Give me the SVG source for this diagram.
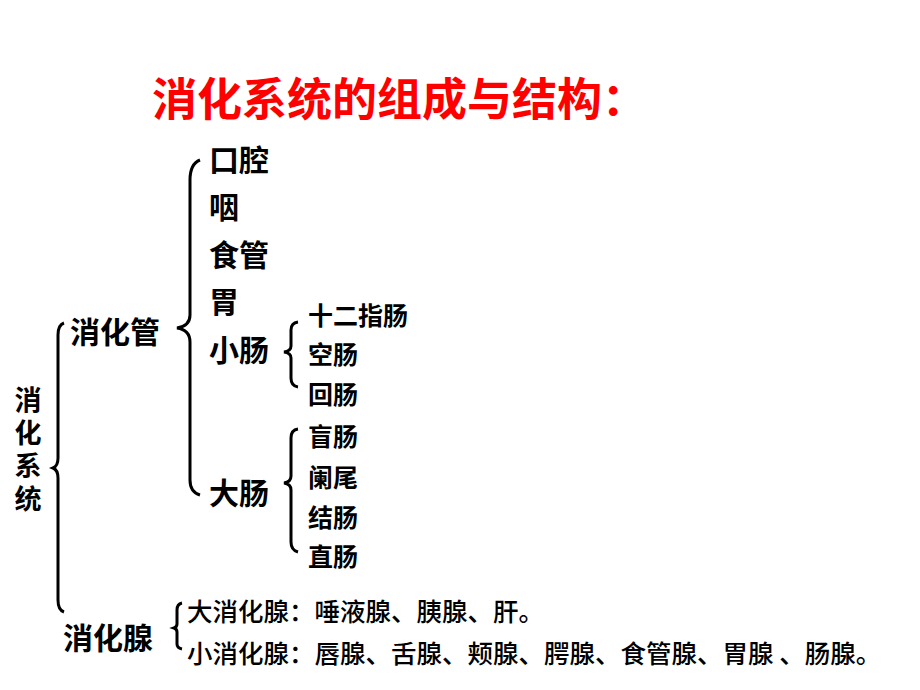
<svg xmlns="http://www.w3.org/2000/svg" width="920" height="690" viewBox="0 0 920 690">
<style>
text{font-family:"Noto Sans CJK SC","Liberation Sans",sans-serif;font-weight:bold;fill:#000}
.t{fill:#ff0000;font-size:45px}
.l{font-size:30px}
.v{font-size:27px}
.s{font-size:25px}
.g{font-size:25.5px;font-weight:500}
.b{fill:none;stroke:#000;stroke-width:3}
</style>
<rect width="920" height="690" fill="#fff"/>
<text class="t" x="152" y="116">消化系统的组成与结构：</text>
<g id="root"><text class="v" text-anchor="middle"><tspan x="28" y="410">消</tspan><tspan x="28" y="443">化</tspan><tspan x="28" y="476">系</tspan><tspan x="28" y="509">统</tspan></text></g>
<g id="tube"><text class="l" x="70" y="343">消化管</text></g>
<g id="gland"><text class="l" x="63" y="649">消化腺</text></g>
<g id="tube-items">
<text class="l" x="209" y="171">口腔</text>
<text class="l" x="209" y="218">咽</text>
<text class="l" x="209" y="266">食管</text>
<text class="l" x="209" y="313">胃</text>
<text class="l" x="209" y="361">小肠</text>
<text class="l" x="209" y="504">大肠</text>
</g>
<g id="small-int">
<text class="s" x="308" y="325">十二指肠</text>
<text class="s" x="308" y="364">空肠</text>
<text class="s" x="308" y="404">回肠</text>
</g>
<g id="large-int">
<text class="s" x="308" y="446">盲肠</text>
<text class="s" x="308" y="487">阑尾</text>
<text class="s" x="308" y="527">结肠</text>
<text class="s" x="308" y="566">直肠</text>
</g>
<g id="glands">
<text class="g" x="187" y="621">大消化腺：唾液腺、胰腺、肝。</text>
<text class="g" x="187" y="663">小消化腺：唇腺、舌腺、颊腺、腭腺、食管腺、胃腺 、肠腺。</text>
</g>
<g id="connectors">
<path class="b" d="M64,323 Q58,325 58,335 L58,458 Q58,466 53,468 Q58,470 58,478 L58,600 Q58,610 64,612"/>
<path class="b" d="M200,160 Q190,164 190,180 L190,315 Q190,326 177,328 Q190,330 190,342 L190,480 Q190,492 200,495"/>
<path class="b" d="M298,322 Q291,323 291,330 L291,346 Q291,351 284,352 Q291,353 291,358 L291,378 Q291,386 298,387"/>
<path class="b" d="M298,429 Q291,430 291,438 L291,476 Q291,482 284,483 Q291,484 291,490 L291,542 Q291,550 298,552"/>
<path class="b" d="M182,603 Q177,604 177,610 L177,624 Q177,627 174,628 Q177,629 177,632 L177,644 Q177,648 182,649"/>
</g>
</svg>
